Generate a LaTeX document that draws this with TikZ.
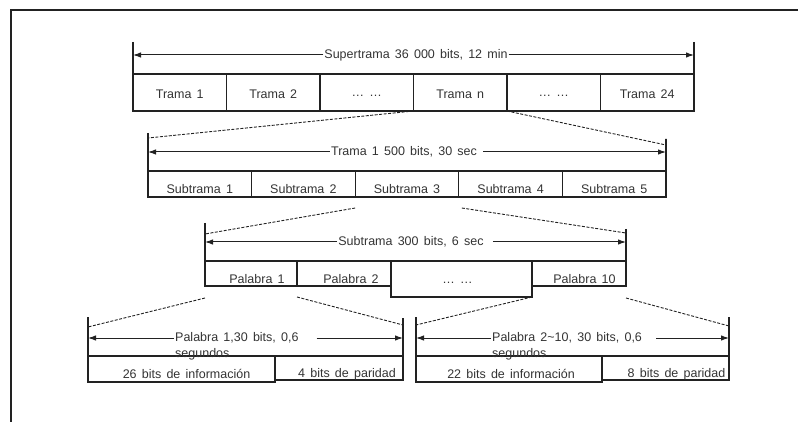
\documentclass[tikz,border=0pt]{standalone}
\usepackage{fontspec}
\setmainfont{Liberation Sans}[WordSpace=1.5]
\usetikzlibrary{arrows.meta}
\definecolor{ink}{HTML}{222222}
\definecolor{txt}{HTML}{333333}
\begin{document}
\begin{tikzpicture}[x=1pt,y=-1pt,
  font=\fontsize{12.5}{14.5}\selectfont, text=txt,
  cell/.style 2 args={draw=ink, line width=1.3pt, inner sep=0pt, outer sep=0pt,
    anchor=north west, minimum width=#1, minimum height=#2, text depth=0pt},
  nudge/.style={execute at begin node={\hspace*{#1}}},
  tick/.style={draw=ink, line width=1.6pt},
  dim/.style={draw=ink, line width=1pt, -{Latex[length=8pt,width=5.5pt]}},
  zoomline/.style={draw=ink, line width=0.9pt, dash pattern=on 3pt off 1.5pt},
  frame/.style={draw=ink, line width=2.4pt},
  lab/.style={inner sep=1pt, text height=8.8pt, text depth=1.9pt}]
\useasboundingbox (0,0) rectangle (798,422);

% outer frame (top and left edges)
\draw[frame] (798,10) -- (11,10) -- (11,422);

% ---- supertrama ----
\node[cell={93.5}{37}, text height=13pt] (t1) at (133,74) {Trama 1};
\node[cell={93.5}{37}, text height=13pt] (t2) at (t1.north east) {Trama 2};
\node[cell={93.5}{37}, text height=9pt] (t3) at (t2.north east) {… …};
\node[cell={93.5}{37}, text height=13pt] (t4) at (t3.north east) {Trama n};
\node[cell={93.5}{37}, text height=9pt] (t5) at (t4.north east) {… …};
\node[cell={93.5}{37}, text height=13pt] (t6) at (t5.north east) {Trama 24};
\coordinate (sL) at (133,42);
\coordinate (sR) at (694,42);
\draw[tick] (sL) -- (t1.north west);
\draw[tick] (sR) -- (t6.north east);
\node[lab] (sLab) at (416,55) {Supertrama 36 000 bits, 12 min};
\draw[dim] (sLab.west) -- (sL |- sLab.west);
\draw[dim] (sLab.east) -- (sR |- sLab.east);

% ---- trama ----
\node[cell={103.6}{26}, text height=19pt] (s1) at (148,171) {Subtrama 1};
\node[cell={103.6}{26}, text height=19pt] (s2) at (s1.north east) {Subtrama 2};
\node[cell={103.6}{26}, text height=19pt] (s3) at (s2.north east) {Subtrama 3};
\node[cell={103.6}{26}, text height=19pt] (s4) at (s3.north east) {Subtrama 4};
\node[cell={103.6}{26}, text height=19pt] (s5) at (s4.north east) {Subtrama 5};
\coordinate (fL) at (148,133);
\coordinate (fR) at (666,139);
\coordinate (fLd) at (148,138);
\coordinate (fRd) at (666,145);
\draw[tick] (fL) -- (s1.north west);
\draw[tick] (fR) -- (s5.north east);
\node[lab] (fLab) at (404,152) {Trama 1 500 bits, 30 sec};
\draw[dim] (fLab.west) -- (fL |- fLab.west);
\draw[dim] ([xshift=5pt]fLab.east) -- (fR |- fLab.east);
\draw[zoomline] (t4.south west) -- (fLd);
\draw[zoomline] (t4.south east) -- (fRd);

% ---- subtrama ----
\node[cell={92}{25}, text height=20pt, nudge=12pt] (p1) at (205,261) {Palabra 1};
\node[cell={94}{25}, text height=20pt, nudge=14pt] (p2) at (p1.north east) {Palabra 2};
\node[cell={141}{36}, text height=9pt, nudge=-8pt] (pd) at (p2.north east) {… …};
\node[cell={94}{25}, text height=20pt, nudge=11pt] (p10) at (pd.north east) {Palabra 10};
\coordinate (uL) at (205,223);
\coordinate (uR) at (626,229);
\coordinate (uLd) at (205,234);
\coordinate (uRd) at (626,233);
\draw[tick] (uL) -- (p1.north west);
\draw[tick] (uR) -- (p10.north east);
\node[lab] (uLab) at (411,242) {Subtrama 300 bits, 6 sec};
\draw[dim] (uLab.west) -- (uL |- uLab.west);
\draw[dim] ([xshift=8pt]uLab.east) -- (uR |- uLab.east);
\draw[zoomline] ([yshift=-11pt]s3.south west) -- (uLd);
\draw[zoomline] ([yshift=-11pt,xshift=3pt]s3.south east) -- (uRd);

% ---- palabra 1 ----
\node[cell={187}{26}, text height=18pt, nudge=10pt] (a1) at (88,356) {26 bits de información};
\node[cell={128}{24}, text height=18pt, nudge=16pt] (a2) at (a1.north east) {4 bits de paridad};
\coordinate (aL) at (88,317);
\coordinate (aR) at (403,318);
\coordinate (aLd) at (88,327);
\coordinate (aRd) at (403,325);
\draw[tick] (aL) -- (a1.north west);
\draw[tick] (aR) -- (a2.north east);
\node[lab, anchor=west] (aLab) at (174,338) {Palabra 1,30 bits, 0,6};
\node[lab, anchor=base west] (aSeg) at ([yshift=-16pt]aLab.base west) {segundos};
\draw[dim] (aLab.west) -- (aL |- aLab.west);
\draw[dim] ([xshift=17pt]aLab.east) -- (aR |- aLab.east);
\draw[zoomline] ([yshift=-12pt]p1.south west) -- (aLd);
\draw[zoomline] ([yshift=-11pt]p1.south east) -- (aRd);

% ---- palabras 2 a 10 ----
\node[cell={186}{26}, text height=18pt, nudge=4pt] (b1) at (416,356) {22 bits de información};
\node[cell={127}{24}, text height=18pt, nudge=22pt] (b2) at (b1.north east) {8 bits de paridad};
\coordinate (bL) at (416,317);
\coordinate (bR) at (729,317);
\coordinate (bLd) at (416,325);
\coordinate (bRd) at (729,326);
\draw[tick] (bL) -- (b1.north west);
\draw[tick] (bR) -- (b2.north east);
\node[lab, anchor=west] (bLab) at (491,338) {Palabra 2\textasciitilde10, 30 bits, 0,6};
\node[lab, anchor=base west] (bSeg) at ([yshift=-16pt]bLab.base west) {segundos};
\draw[dim] (bLab.west) -- (bL |- bLab.west);
\draw[dim] ([xshift=13pt]bLab.east) -- (bR |- bLab.east);
\draw[zoomline] (pd.south east) -- (bLd);
\draw[zoomline] ([yshift=-12pt]p10.south east) -- (bRd);
\end{tikzpicture}
\end{document}
